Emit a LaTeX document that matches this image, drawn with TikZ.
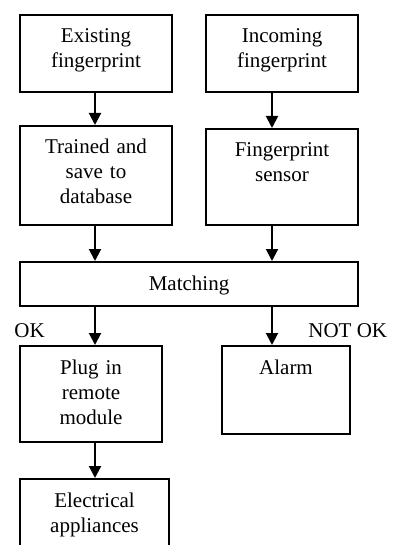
\documentclass[tikz,border=0pt]{standalone}
\usepackage{fontspec}
\setmainfont{Liberation Serif}
\usetikzlibrary{arrows.meta}

\tikzset{
    stage/.style={draw, line width=1pt, anchor=north west, align=center,
        inner xsep=2pt, inner ysep=6pt, text height=8pt,
        font={\fontsize{10.5}{12.5}\selectfont}},
    flow/.style={line width=1pt, -{Triangle[width=6pt,length=6pt]}},
    tag/.style={anchor=base west, inner sep=0pt, font={\fontsize{10.5}{12.5}\selectfont}}
}

\begin{document}
\begin{tikzpicture}[x=0.5pt, y=-0.5pt]
        \useasboundingbox (0,0) rectangle (392,545);
        \clip (0,0) rectangle (392,545);

        \coordinate (leftcol) at (95,0);
        \coordinate (rightcol) at (272,0);

        \node[stage, text width=72pt, text depth=18.5pt] (existing) at (19,14) {Existing\\fingerprint};
        \node[stage, text width=72pt, text depth=18.5pt] (incoming) at (205,14) {Incoming\\fingerprint};
        \node[stage, text width=72pt, text depth=29.5pt] (trained) at (19,125) {Trained and\\save to\\database};
        \node[stage, text width=72pt, text depth=28pt] (sensor) at (205,128) {Fingerprint\\sensor};
        \node[stage, text width=165pt, text depth=2pt] (matching) at (19,261) {Matching};
        \node[stage, text width=67pt, text depth=28pt] (plugin) at (19,345) {Plug in\\remote\\module};
        \node[stage, text width=60pt, text depth=24pt] (alarm) at (221,345) {Alarm};
        \node[stage, text width=70.5pt, text depth=30pt] (appliances) at (19,478) {Electrical\\appliances};

        \node[tag] (ok) at (14,337) {OK};
        \node[tag] (notok) at (308,337) {NOT OK};

        \draw[flow] (existing.south -| leftcol) -- (trained.north -| leftcol);
        \draw[flow] (incoming.south -| rightcol) -- (sensor.north -| rightcol);
        \draw[flow] (trained.south -| leftcol) -- (matching.north -| leftcol);
        \draw[flow] (sensor.south -| rightcol) -- (matching.north -| rightcol);
        \draw[flow] (matching.south -| leftcol) -- (plugin.north -| leftcol);
        \draw[flow] (matching.south -| rightcol) -- (alarm.north -| rightcol);
        \draw[flow] (plugin.south -| leftcol) -- (appliances.north -| leftcol);
    \end{tikzpicture}
\end{document}
